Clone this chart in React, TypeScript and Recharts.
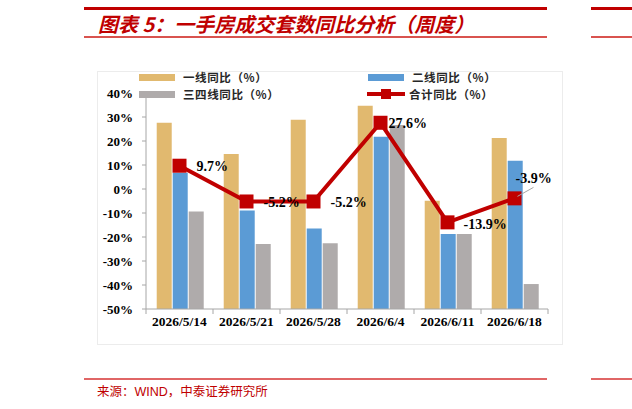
import React from 'react';
import { ComposedChart, Bar, Line, XAxis, YAxis, LabelList } from 'recharts';

const weeks = ['2026/5/14', '2026/5/21', '2026/5/28', '2026/6/4', '2026/6/11', '2026/6/18'];
const tier1 = [27.6, 14.6, 28.9, 34.7, -4.9, 21.3];
const tier2 = [6.8, -9.0, -16.5, 21.8, -18.8, 11.8];
const tier34 = [-9.4, -22.9, -22.6, 26.7, -18.8, -39.6];
const total = [9.7, -5.2, -5.2, 27.6, -13.9, -3.9];
const yTicks = [40, 30, 20, 10, 0, -10, -20, -30, -40, -50];
// bars rise from the axis floor, as in the source chart
const BAR_BASE = -50;

const RED = '#c00000';
const ORANGE = '#e1b96f';
const BLUE = '#5b9bd5';
const GRAY = '#afabab';
const SERIF = '"Liberation Serif", "Times New Roman", serif';
const CJK = '"Noto Sans CJK SC", sans-serif';

const W = 632;
const H = 409;
const PLOT_LEFT = 146;
const PLOT_RIGHT = 548;
const PLOT_TOP = 93;
const PLOT_BOTTOM = 309;
const Y_AXIS_W = 60;
const X_AXIS_H = 30;

const data = weeks.map((w, i) => ({
    week: w,
    t1: [BAR_BASE, tier1[i]],
    t2: [BAR_BASE, tier2[i]],
    t34: [BAR_BASE, tier34[i]],
    total: total[i],
}));

// label placement next to each total point (dx, dy from the point)
const labelOffsets = [
    [17, 2],
    [17, 2],
    [17, 2],
    [8, 2],
    [16, 3],
    [1, -19],
];

const band = (PLOT_RIGHT - PLOT_LEFT) / weeks.length;

function XTick(props: any) {
    const { x, y, payload, index } = props;
    return (
        <g>
            <line x1={x - band / 2} x2={x - band / 2} y1={y} y2={y + 5} stroke="#a6a6a6" />
            {index === weeks.length - 1 && (
                <line x1={x + band / 2} x2={x + band / 2} y1={y} y2={y + 5} stroke="#a6a6a6" />
            )}
            <text x={x} y={y + 17} textAnchor="middle" fontFamily={SERIF} fontWeight="bold" fontSize={13.5} fill="#000">
                {payload.value}
            </text>
        </g>
    );
}

function SquareDot(props: any) {
    const { cx, cy, index } = props;
    return <rect key={`d${index}`} x={cx - 7} y={cy - 7} width={14} height={14} fill={RED} />;
}

function TotalLabel(props: any) {
    const { x, y, value, index } = props;
    const [dx, dy] = labelOffsets[index];
    return (
        <g>
            {index === weeks.length - 1 && (
                <line x1={x + 3} y1={y - 2} x2={x + 19} y2={y - 11} stroke="#a6a6a6" />
            )}
            <text x={x + dx} y={y + dy} dominantBaseline="middle" fontFamily={SERIF} fontWeight="bold" fontSize={14} fill="#000">
                {`${value}%`}
            </text>
        </g>
    );
}

function LegendItem({ x, y, color, label, line }: { x: number; y: number; color: string; label: string; line?: boolean }) {
    return (
        <div style={{ position: 'absolute', left: x, top: y - 7, height: 14, display: 'flex', alignItems: 'center' }}>
            <svg width={40} height={14} style={{ display: 'block' }}>
                {line ? (
                    <g>
                        <line x1={0} x2={38} y1={7} y2={7} stroke={color} strokeWidth={4} />
                        <rect x={14} y={2} width={10} height={10} fill={color} />
                    </g>
                ) : (
                    <rect x={0} y={4} width={36} height={7} fill={color} />
                )}
            </svg>
            <span
                style={{
                    fontFamily: CJK,
                    fontSize: 11.5,
                    fontWeight: 'bold',
                    color: '#262626',
                    marginLeft: line ? 2 : 4,
                    letterSpacing: 0.6,
                    lineHeight: '14px',
                    height: 14,
                }}
            >
                {label}
            </span>
        </div>
    );
}

export default function App() {
    return (
        <div style={{ position: 'absolute', left: 0, top: 0, width: W, height: H, background: '#fff', overflow: 'hidden' }}>
            {/* header rules */}
            <div style={{ position: 'absolute', left: 84, top: 7, width: 463, height: 2.5, background: RED }} />
            <div style={{ position: 'absolute', left: 591, top: 7, width: 41, height: 2.5, background: RED }} />
            <div style={{ position: 'absolute', left: 84, top: 36, width: 463, height: 1.5, background: '#d9534f' }} />
            <div style={{ position: 'absolute', left: 591, top: 36, width: 41, height: 1.5, background: '#d9534f' }} />
            <div
                style={{
                    position: 'absolute',
                    left: 98,
                    top: 10,
                    fontFamily: CJK,
                    fontSize: 20,
                    fontWeight: 'bold',
                    fontStyle: 'italic',
                    color: RED,
                    whiteSpace: 'nowrap',
                    lineHeight: '28px',
                }}
            >
                图表 5：一手房成交套数同比分析（周度）
            </div>

            {/* faint chart frame */}
            <div style={{ position: 'absolute', left: 97, top: 71, width: 464, height: 272, border: '1px solid #ececec' }} />

            <ComposedChart
                width={W}
                height={H}
                data={data}
                margin={{
                    top: PLOT_TOP,
                    right: W - PLOT_RIGHT,
                    bottom: H - PLOT_BOTTOM - X_AXIS_H,
                    left: PLOT_LEFT - Y_AXIS_W,
                }}
                barCategoryGap="16%"
                barGap={1}
                style={{ position: 'absolute', left: 0, top: 0 }}
            >
                <XAxis
                    dataKey="week"
                    height={X_AXIS_H}
                    axisLine={{ stroke: '#a6a6a6' }}
                    tickLine={false}
                    tickSize={0}
                    tickMargin={0}
                    tick={<XTick />}
                    interval={0}
                />
                <YAxis
                    width={Y_AXIS_W}
                    domain={[-50, 40]}
                    ticks={yTicks}
                    interval={0}
                    allowDataOverflow
                    axisLine={{ stroke: '#a6a6a6' }}
                    tickLine={{ stroke: '#a6a6a6' }}
                    tickSize={4}
                    tickMargin={9}
                    tickFormatter={(v: number) => `${v}%`}
                    tick={{ fontFamily: SERIF, fontWeight: 'bold', fontSize: 13, fill: '#000' }}
                />
                <Bar dataKey="t1" fill={ORANGE} isAnimationActive={false} />
                <Bar dataKey="t2" fill={BLUE} isAnimationActive={false} />
                <Bar dataKey="t34" fill={GRAY} isAnimationActive={false} />
                <Line
                    dataKey="total"
                    stroke={RED}
                    strokeWidth={4}
                    dot={<SquareDot />}
                    activeDot={false}
                    isAnimationActive={false}
                >
                    <LabelList dataKey="total" content={<TotalLabel />} />
                </Line>
            </ComposedChart>

            <LegendItem x={139} y={77} color={ORANGE} label="一线同比（%）" />
            <LegendItem x={368} y={77} color={BLUE} label="二线同比（%）" />
            <LegendItem x={139} y={94} color={GRAY} label="三四线同比（%）" />
            <LegendItem x={367} y={94} color={RED} label="合计同比（%）" line />

            {/* footer */}
            <div style={{ position: 'absolute', left: 84, top: 378, width: 463, height: 1.5, background: '#e06666' }} />
            <div style={{ position: 'absolute', left: 591, top: 378, width: 41, height: 1.5, background: '#e06666' }} />
            <div
                style={{
                    position: 'absolute',
                    left: 97,
                    top: 382,
                    fontFamily: CJK,
                    fontSize: 12.5,
                    color: RED,
                    whiteSpace: 'nowrap',
                    lineHeight: '18px',
                }}
            >
                来源：<span style={{ fontFamily: '"Liberation Sans", Arial, sans-serif' }}>WIND</span>，中泰证券研究所
            </div>
        </div>
    );
}
